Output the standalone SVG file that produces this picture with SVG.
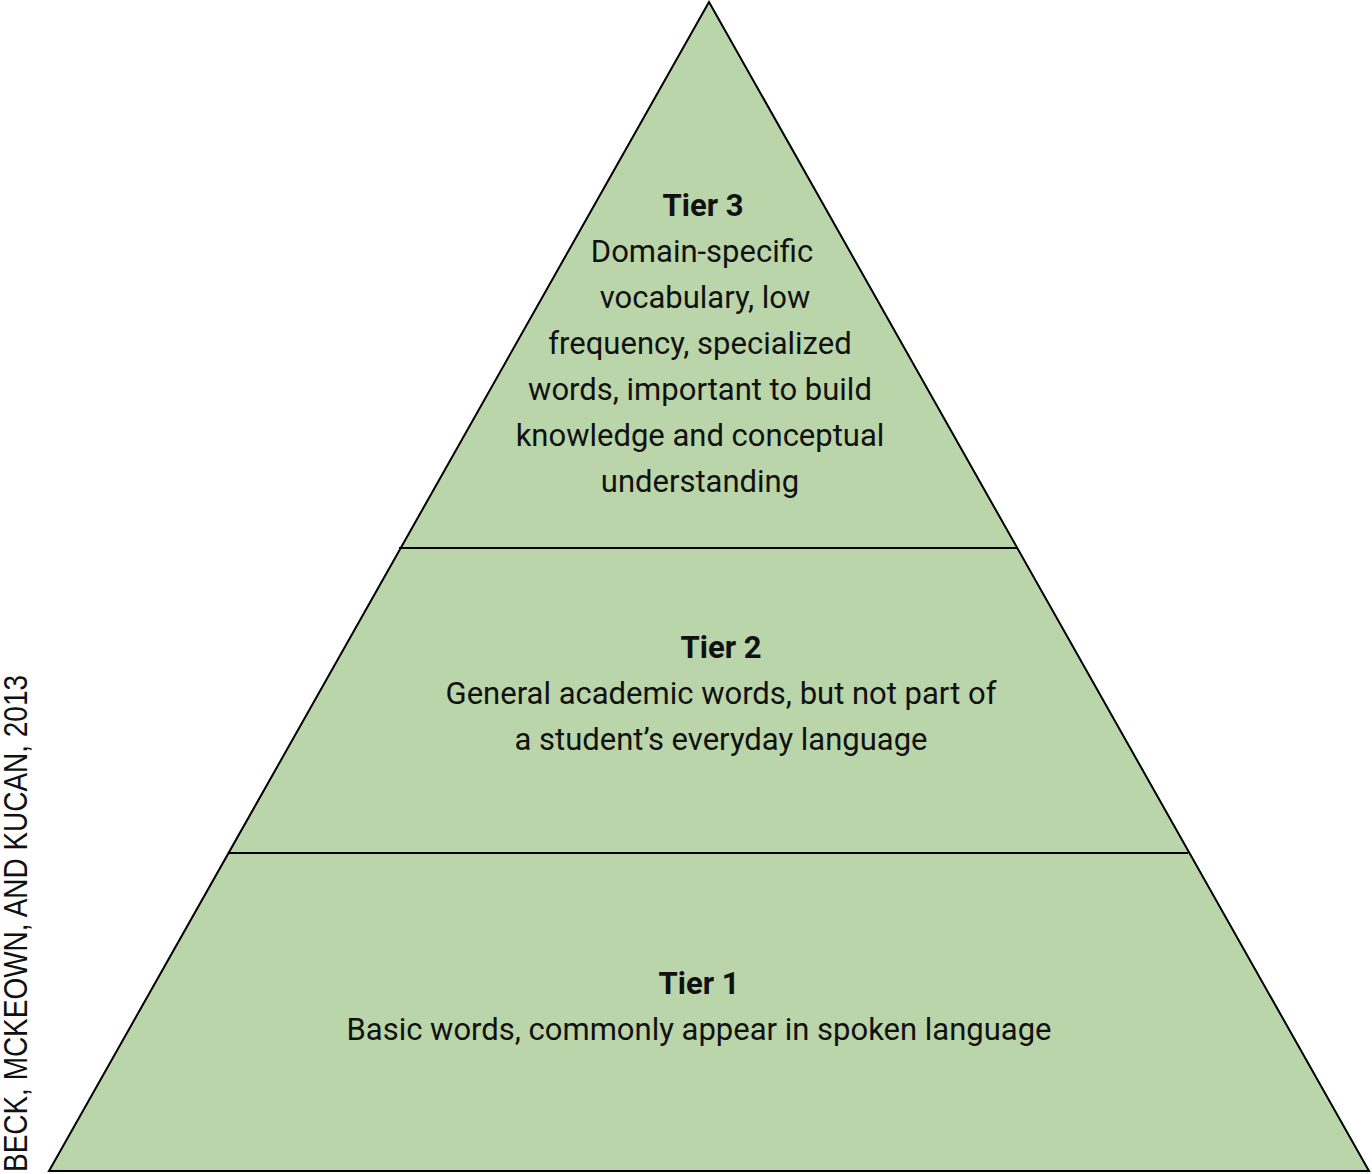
<svg xmlns="http://www.w3.org/2000/svg" width="1372" height="1174" viewBox="0 0 1372 1174">
<style>
.t{font-family:Roboto,"DejaVu Sans",sans-serif;font-size:31px;fill:#111;text-anchor:middle}
.b{font-weight:bold}
.edge{stroke:#000;stroke-width:2;fill:none}
</style>
<rect width="1372" height="1174" fill="#fff"/>
<g id="pyramid">
<polygon points="709,2 49,1171 1369,1171" fill="#BAD5A9" stroke="#000" stroke-width="2" stroke-linejoin="miter"/>
</g>
<g id="connectors">
<line class="edge" x1="399" y1="548" x2="1018" y2="548"/>
<line class="edge" x1="229" y1="853" x2="1188" y2="853"/>
</g>
<g id="tier3">
<text class="t b" x="703" y="216">Tier 3</text>
<text class="t" x="702" y="262">Domain-specific</text>
<text class="t" x="705" y="308">vocabulary, low</text>
<text class="t" x="700" y="354">frequency, specialized</text>
<text class="t" x="700" y="400">words, important to build</text>
<text class="t" x="700" y="446">knowledge and conceptual</text>
<text class="t" x="700" y="492">understanding</text>
</g>
<g id="tier2">
<text class="t b" x="721" y="658">Tier 2</text>
<text class="t" x="721" y="704">General academic words, but not part of</text>
<text class="t" x="721" y="750">a student’s everyday language</text>
</g>
<g id="tier1">
<text class="t b" x="699" y="994">Tier 1</text>
<text class="t" x="699" y="1040">Basic words, commonly appear in spoken language</text>
</g>
<g id="credit">
<text x="0" y="0" transform="translate(27,1172) rotate(-90)" font-family="Liberation Sans,Arial,sans-serif" font-size="34" fill="#111" textLength="497" lengthAdjust="spacingAndGlyphs">BECK, MCKEOWN, AND KUCAN, 2013</text>
</g>
</svg>
